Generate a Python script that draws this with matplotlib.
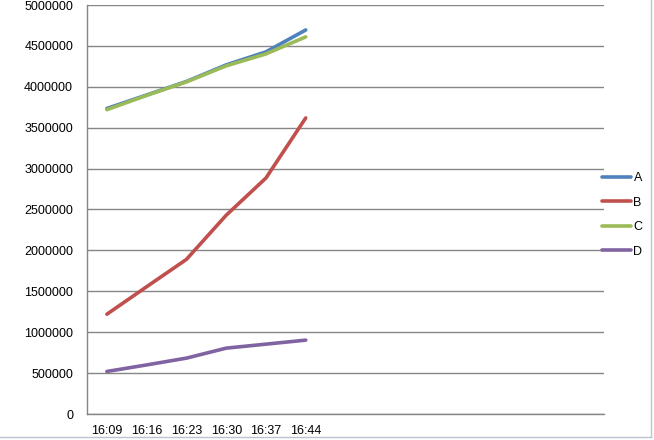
import matplotlib.pyplot as plt
from matplotlib.lines import Line2D

plt.rcParams['font.family'] = ['Liberation Sans', 'DejaVu Sans']

times = ['16:09', '16:16', '16:23', '16:30', '16:37', '16:44']
a = [3735000, 3900000, 4065000, 4268000, 4427000, 4695000]
b = [1220000, 1556000, 1890000, 2430000, 2885000, 3619000]
c = [3720000, 3895000, 4060000, 4256000, 4402000, 4610000]
d = [520000, 600000, 683000, 805000, 854000, 903000]
names = ['A', 'B', 'C', 'D']
colors = ['#4F81BD', '#C0504D', '#9BBB59', '#8064A2']
n_slots = 13

fig = plt.figure(figsize=(6.54, 4.40), dpi=100)
ax = fig.add_axes([87 / 654, 1 - 414 / 440, (604 - 87) / 654, (414 - 5) / 440])

x = list(range(len(times)))
for vals, name, col in zip([a, b, c, d], names, colors):
    ax.plot(x, vals, color=col, lw=2.6, label=name, solid_capstyle='round')

ax.set_xlim(-0.5, n_slots - 0.5)
ax.set_ylim(0, 5000000)
ax.set_yticks(range(0, 5000001, 500000))
ax.set_yticklabels([str(v) for v in range(0, 5000001, 500000)])
ax.set_xticks(x)
ax.set_xticklabels(times)
ax.tick_params(axis='both', length=0, labelsize=9, colors='black')
ax.tick_params(axis='y', pad=10)
ax.tick_params(axis='x', pad=8)
ax.grid(axis='y', color='#868686', lw=1)
ax.set_axisbelow(True)
for s in ['top', 'right']:
    ax.spines[s].set_visible(False)
for s in ['left', 'bottom']:
    ax.spines[s].set_color('#868686')
    ax.spines[s].set_linewidth(1)

ax.legend(loc='upper left', bbox_to_anchor=(596 / 654, 1 - 166 / 440),
          bbox_transform=fig.transFigure, frameon=False, fontsize=9,
          handlelength=2.3, handletextpad=0.2, labelspacing=1.0, borderpad=0)

# window edge of the screenshot
fig.add_artist(Line2D([651 / 654, 651 / 654], [3 / 440, 1], color='#B8C4D0', lw=1))
fig.add_artist(Line2D([0, 651 / 654], [3 / 440, 3 / 440], color='#B8C4D0', lw=1))

fig.savefig('out.png', dpi=100)
